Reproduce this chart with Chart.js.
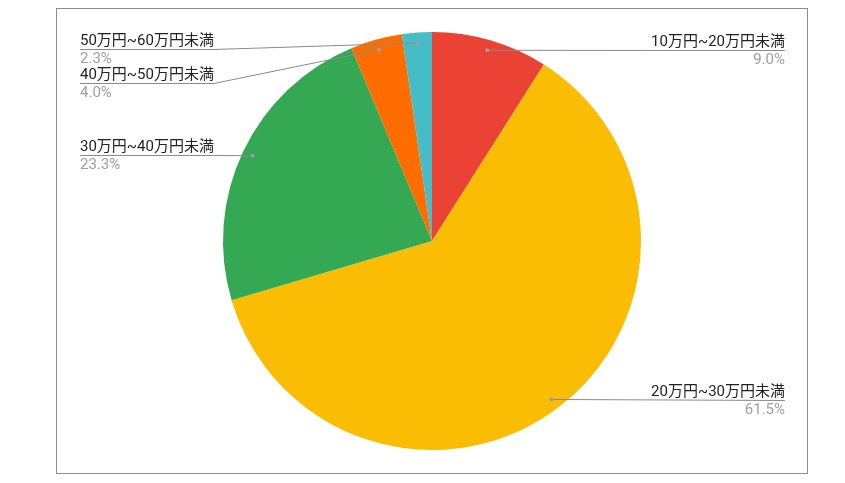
<!DOCTYPE html>
<html>
<head>
<meta charset="utf-8">
<script src="https://cdn.jsdelivr.net/npm/chart.js@4.4.1/dist/chart.umd.min.js"></script>
<style>
  html, body { margin: 0; padding: 0; background: #fff; }
  canvas { display: block; }
</style>
</head>
<body>
<canvas id="pie-chart" width="845" height="483"></canvas>
<script>
const labelArray = [
  '10万円~20万円未満',
  '20万円~30万円未満',
  '30万円~40万円未満',
  '40万円~50万円未満',
  '50万円~60万円未満'
]
const valueArray = [9.0, 61.5, 23.3, 4.0, 2.3]
const percentLabels = ['9.0%', '61.5%', '23.3%', '4.0%', '2.3%']
const backgroundColorArray = [
  '#ea4335',
  '#fbbc04',
  '#34a853',
  '#ff6d01',
  '#46bdc6'
]

// where each callout sits: side, y of the underline
const calloutLayout = [
  { side: 'right', y: 50 },
  { side: 'right', y: 400 },
  { side: 'left', y: 155 },
  { side: 'left', y: 83 },
  { side: 'left', y: 49 }
]

const FONT = "15px Roboto, 'Noto Sans CJK JP', sans-serif"

const frameAndCallouts = {
  id: 'frameAndCallouts',
  beforeDraw(chart) {
    const ctx = chart.ctx
    ctx.save()
    ctx.strokeStyle = '#8c8c8c'
    ctx.lineWidth = 1
    ctx.strokeRect(56.5, 8.5, 751, 465)
    ctx.restore()
  },
  afterDatasetsDraw(chart) {
    const ctx = chart.ctx
    const arcs = chart.getDatasetMeta(0).data
    ctx.save()
    ctx.font = FONT
    arcs.forEach((arc, i) => {
      const mid = (arc.startAngle + arc.endAngle) / 2
      const r = arc.outerRadius * 0.95
      const dx = arc.x + Math.cos(mid) * r
      const dy = arc.y + Math.sin(mid) * r
      const lay = calloutLayout[i]
      const w = ctx.measureText(labelArray[i]).width

      ctx.strokeStyle = '#8a8a8a'
      ctx.lineWidth = 1
      ctx.beginPath()
      if (lay.side === 'right') {
        const xr = 785
        ctx.moveTo(dx, dy)
        ctx.lineTo(xr, lay.y + 0.5)
      } else {
        const xl = 80
        ctx.moveTo(xl, lay.y + 0.5)
        ctx.lineTo(xl + w, lay.y + 0.5)
        ctx.lineTo(dx, dy)
      }
      ctx.stroke()

      ctx.fillStyle = '#9e9e9e'
      ctx.beginPath()
      ctx.arc(dx, dy, 2, 0, Math.PI * 2)
      ctx.fill()

      ctx.textAlign = lay.side === 'right' ? 'right' : 'left'
      const tx = lay.side === 'right' ? 785 : 80
      ctx.textBaseline = 'alphabetic'
      ctx.fillStyle = '#222222'
      ctx.fillText(labelArray[i], tx, lay.y - 4)
      ctx.textBaseline = 'top'
      ctx.fillStyle = '#9e9e9e'
      ctx.fillText(percentLabels[i], tx, lay.y + 3)
    })
    ctx.restore()
  }
}

const pieChartConfig = {
  type: 'pie',
  data: {
    labels: labelArray,
    datasets: [{
      data: valueArray,
      backgroundColor: backgroundColorArray,
      borderWidth: 0
    }]
  },
  options: {
    responsive: false,
    animation: false,
    layout: {
      padding: { left: 223, right: 204, top: 32, bottom: 33 }
    },
    plugins: {
      legend: { display: false },
      tooltip: { enabled: false }
    }
  },
  plugins: [frameAndCallouts]
}

const pieChart = new Chart(document.querySelector('#pie-chart').getContext('2d'), pieChartConfig)
</script>
</body>
</html>
